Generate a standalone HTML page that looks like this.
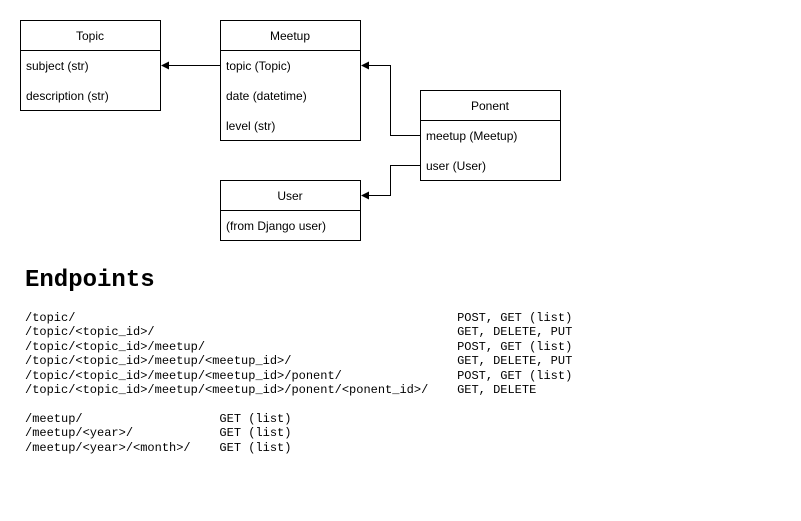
<!DOCTYPE html>
<html><head><meta charset="utf-8"><style>
body{margin:0;background:#fff;width:801px;height:521px;overflow:hidden;position:relative}
svg{position:absolute;left:0;top:0}
pre{position:absolute;margin:0;font-family:"Liberation Mono",monospace;font-size:12px;line-height:14.4px;color:#000}
h1{position:absolute;margin:0;left:25px;top:266px;font-family:"Liberation Mono",monospace;font-size:24px;font-weight:bold;line-height:30px}
</style></head><body>
<svg width="801" height="521" font-family="Liberation Sans, sans-serif" font-size="12">
<g fill="#fff" stroke="#000" stroke-width="1">
<rect x="20.5" y="20.5" width="140" height="90"/><line x1="20.5" y1="50.5" x2="160.5" y2="50.5"/>
<rect x="220.5" y="20.5" width="140" height="120"/><line x1="220.5" y1="50.5" x2="360.5" y2="50.5"/>
<rect x="420.5" y="90.5" width="140" height="90"/><line x1="420.5" y1="120.5" x2="560.5" y2="120.5"/>
<rect x="220.5" y="180.5" width="140" height="60"/><line x1="220.5" y1="210.5" x2="360.5" y2="210.5"/>
</g>
<g fill="none" stroke="#000">
<path d="M220.5 65.5H166"/>
<path d="M420.5 135.5H390.5V65.5H366"/>
<path d="M420.5 165.5H390.5V195.5H366"/>
</g>
<g fill="#000">
<path d="M161 65.5l8-4v8z"/>
<path d="M361 65.5l8-4v8z"/>
<path d="M361 195.5l8-4v8z"/>
</g>
<g fill="#000" text-anchor="middle">
<text x="90" y="40">Topic</text><text x="290" y="40">Meetup</text>
<text x="490" y="110">Ponent</text><text x="290" y="200">User</text>
</g>
<g fill="#000">
<text x="26" y="70">subject (str)</text><text x="26" y="100">description (str)</text>
<text x="226" y="70">topic (Topic)</text><text x="226" y="100">date (datetime)</text><text x="226" y="130">level (str)</text>
<text x="426" y="140">meetup (Meetup)</text><text x="426" y="170">user (User)</text>
<text x="226" y="230">(from Django user)</text>
</g>
</svg>
<h1>Endpoints</h1>
<pre style="left:25px;top:311px">/topic/                                                     POST, GET (list)
/topic/&lt;topic_id&gt;/                                          GET, DELETE, PUT
/topic/&lt;topic_id&gt;/meetup/                                   POST, GET (list)
/topic/&lt;topic_id&gt;/meetup/&lt;meetup_id&gt;/                       GET, DELETE, PUT
/topic/&lt;topic_id&gt;/meetup/&lt;meetup_id&gt;/ponent/                POST, GET (list)
/topic/&lt;topic_id&gt;/meetup/&lt;meetup_id&gt;/ponent/&lt;ponent_id&gt;/    GET, DELETE

/meetup/                   GET (list)
/meetup/&lt;year&gt;/            GET (list)
/meetup/&lt;year&gt;/&lt;month&gt;/    GET (list)</pre>
</body></html>
